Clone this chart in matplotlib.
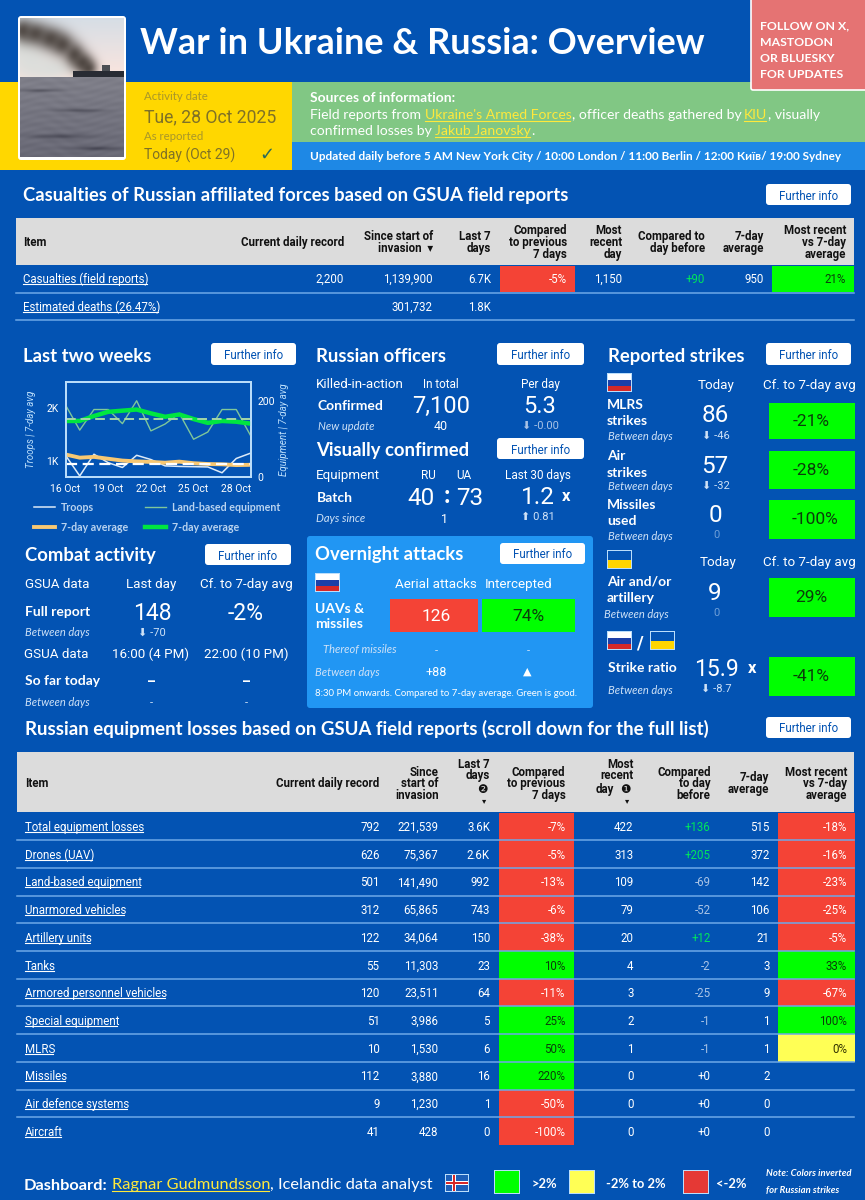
import numpy as np
import matplotlib
matplotlib.use("Agg")
import matplotlib.pyplot as plt
from matplotlib.patches import Rectangle, FancyBboxPatch
from matplotlib.textpath import TextPath
from matplotlib.font_manager import FontProperties

plt.rcParams['font.family'] = ['Roboto', 'DejaVu Sans']

## data
days = ["16 Oct", "17 Oct", "18 Oct", "19 Oct", "20 Oct", "21 Oct", "22 Oct",
        "23 Oct", "24 Oct", "25 Oct", "26 Oct", "27 Oct", "28 Oct", "29 Oct"]
troops = [1110, 720, 1130, 970, 880, 1110, 1030, 910, 900, 895, 890, 780, 1050, 1150]
troops_avg = [1125, 1065, 1080, 1045, 1010, 995, 985, 970, 990, 960, 945, 940, 925, 930]
land_eq = [189, 123, 177, 177, 140, 200, 121, 139, 167, 99, 118, 177, 177, 109]
land_eq_avg = [147, 147, 160, 171, 174, 177, 167, 158, 164, 152, 142, 147, 145, 140]
troops_mean = 950
land_eq_mean = 151

cas_items = ["Casualties (field reports)", "Estimated deaths (26.47%)"]
cas_record = ["2,200", ""]
cas_total = ["1,139,900", "301,732"]
cas_last7 = ["6.7K", "1.8K"]
cas_cmp7 = [-5, None]
cas_recent = ["1,150", ""]
cas_day = ["+90", ""]
cas_avg = ["950", ""]
cas_vs = [21, None]

eq_items = ["Total equipment losses", "Drones (UAV)", "Land-based equipment", "Unarmored vehicles",
            "Artillery units", "Tanks", "Armored personnel vehicles", "Special equipment", "MLRS",
            "Missiles", "Air defence systems", "Aircraft"]
eq_record = ["792", "626", "501", "312", "122", "55", "120", "51", "10", "112", "9", "41"]
eq_total = ["221,539", "75,367", "141,490", "65,865", "34,064", "11,303", "23,511", "3,986", "1,530",
            "3,880", "1,230", "428"]
eq_last7 = ["3.6K", "2.6K", "992", "743", "150", "23", "64", "5", "6", "16", "1", "0"]
eq_cmp7 = [-7, -5, -13, -6, -38, 10, -11, 25, 50, 220, -50, -100]
eq_recent = ["422", "313", "109", "79", "20", "4", "3", "2", "1", "0", "0", "0"]
eq_day = ["+136", "+205", "-69", "-52", "+12", "-2", "-25", "-1", "-1", "+0", "+0", "+0"]
eq_avg = ["515", "372", "142", "106", "21", "3", "9", "1", "1", "2", "0", "0"]
eq_vs = [-18, -16, -23, -25, -5, 33, -67, 100, 0, None, None, None]

## colours
BG = "#0353b3"
GREY = "#dcdcdc"
RED = "#f44336"
GREEN = "#00ff00"
YELLOW = "#ffff55"
PALE = "#bbdefb"
DIM = "#6f9fd8"
HEAD = ['Lato', 'DejaVu Sans']

fig = plt.figure(figsize=(8.65, 12), dpi=100, facecolor=BG)
ax = fig.add_axes([0, 0, 1, 1])
ax.set_axis_off()


def rect(x0, y0, x1, y1, color, z=1, **kw):
    ax.add_patch(Rectangle((x0, y0), x1 - x0, y1 - y0, facecolor=color, edgecolor='none', zorder=z, **kw))


def txt(x, y, s, size=8.5, color='white', ha='left', weight='normal', style='normal', family=None, z=5, **kw):
    return ax.text(x, y, s, fontsize=size, color=color, ha=ha, va='center_baseline', fontweight=weight,
                   fontstyle=style, family=family if family else plt.rcParams['font.family'], zorder=z, **kw)


def head(x, y, s, size=13.3, **kw):
    return txt(x, y, s, size=size, weight='bold', family=HEAD, **kw)


def width(s, size, family='Lato', weight='normal'):
    # width of a string in pixels, kerning included
    prop = FontProperties(family=family, weight=weight)
    adv = TextPath((0, 0), s + "|", size=size, prop=prop).get_extents().x1
    bar = TextPath((0, 0), "|", size=size, prop=prop).get_extents().x1
    return (adv - bar) * 100 / 72


def runs(x, y, parts, size=9, weight='normal'):
    # several pieces of text on one line, links underlined
    for s, color, is_link in parts:
        txt(x, y, s, color=color, size=size, weight=weight, family=HEAD)
        w = width(s, size, weight=weight)
        if is_link:
            ax.plot([x, x + w - 1.5], [y + 6.5, y + 6.5], color=color, lw=0.8, zorder=5)
        x += w
    return x


def link(x, y, s, size=8.3, color='white', offset=6):
    txt(x, y, s, size=size, color=color)
    ax.plot([x, x + width(s, size, family='Roboto') - 2.5], [y + offset, y + offset], color=color, lw=0.8, zorder=5)


def button(x0, y0, x1, y1, size=8.3):
    ax.add_patch(FancyBboxPatch((x0 + 3, y0 + 3), x1 - x0 - 6, y1 - y0 - 6, boxstyle="round,pad=3,rounding_size=3",
                                facecolor='white', edgecolor='none', zorder=3))
    txt((x0 + x1) / 2, (y0 + y1) / 2, "Further info", size=size, color=BG, ha='center')


def flag_ru(x, y):
    rect(x - 1, y - 1, x + 24, y + 18, PALE, z=2)
    rect(x, y, x + 23, y + 6, 'white', z=3)
    rect(x, y + 6, x + 23, y + 11.5, '#1c3fa8', z=3)
    rect(x, y + 11.5, x + 23, y + 17, '#d62828', z=3)


def flag_ua(x, y):
    rect(x - 1, y - 1, x + 24, y + 18, PALE, z=2)
    rect(x, y, x + 23, y + 8.5, BG, z=3)
    rect(x, y + 8.5, x + 23, y + 17, '#ffd500', z=3)


def cell_color(v):
    if v > 2:
        return GREEN
    if v < -2:
        return RED
    return YELLOW


def cell_text(v):
    return '#0b3d0b' if v > 2 else ('white' if v < -2 else '#333300')


def day_color(s):
    if s == "+0":
        return 'white'
    return '#00e65c' if s.startswith('+') else '#a9c3e6'


ax.set_xlim(0, 865)
ax.set_ylim(1200, 0)

## top banner
rect(0, 82, 292, 169.5, '#ffd700')
rect(292, 82, 865, 142, '#81c784')
rect(292, 142, 865, 169.5, '#1e88e5')
ax.add_patch(FancyBboxPatch((751, -6), 120, 96, boxstyle="round,pad=0,rounding_size=2", facecolor='#e57373',
                            edgecolor='white', lw=1.2, zorder=2))
for yy, s in zip([25, 41, 57, 73], ["FOLLOW ON X,", "MASTODON", "OR BLUESKY", "FOR UPDATES"]):
    txt(760, yy, s, size=8.8, weight='bold', family=HEAD)

# photo of the burning ship, painted from gradients
ax.add_patch(FancyBboxPatch((21, 19), 102, 138, boxstyle="round,pad=3,rounding_size=3", facecolor='white',
                            edgecolor='none', zorder=2))
yy, xx = np.mgrid[0:139, 0:104]
above = (yy < 59)[..., None]
sky = np.array([0.84, 0.87, 0.90]) + (yy[..., None] / 40.0) * np.array([0.10, 0.02, -0.02])
sea = np.array([0.50, 0.50, 0.54]) + ((yy[..., None] - 59) / 80.0) * np.array([-0.09, -0.09, -0.08])
waves = 0.018 * (np.sin(yy / 1.3 + 2 * np.sin(xx / 13.0)) * np.sin(xx / 6.0 + yy / 5.0))[..., None]
photo = np.where(above, sky, sea + waves)
for cx, cy, sx, sy in [(10, 42, 16, 14), (32, 50, 18, 8), (2, 28, 8, 9)]:
    g = np.exp(-((xx - cx) ** 2 / (2 * sx ** 2) + (yy - cy) ** 2 / (2 * sy ** 2)))[..., None] * above
    photo = photo * (1 - 0.9 * g) + np.array([0.86, 0.87, 0.86]) * 0.9 * g
for cx, cy, sx, sy in [(2, 12, 7, 8), (15, 15, 9, 8), (30, 20, 9, 8), (42, 26, 8, 8), (54, 36, 7, 8), (62, 44, 7, 7),
                       (68, 50, 6, 6)]:
    g = np.exp(-((xx - cx) ** 2 / (2 * sx ** 2) + (yy - cy) ** 2 / (2 * sy ** 2)))[..., None] * above
    photo = photo * (1 - 0.85 * g) + np.array([0.27, 0.24, 0.22]) * 0.85 * g
for cx, cy, sx, sy in [(20, 72, 14, 1.2), (60, 92, 18, 1.3), (40, 118, 20, 1.6), (75, 130, 16, 1.4)]:
    g = np.exp(-((xx - cx) ** 2 / (2 * sx ** 2) + (yy - cy) ** 2 / (2 * sy ** 2)))[..., None]
    photo = photo - 0.12 * g
photo[53:59, 53:104] = [0.16, 0.17, 0.2]
photo[47:53, 82:90] = [0.3, 0.31, 0.33]
photo = np.clip(photo, 0, 1)
ax.imshow(photo, extent=(20, 124, 157, 18), aspect='auto', zorder=3, interpolation='bilinear')
ax.set_xlim(0, 865)
ax.set_ylim(1200, 0)

head(140, 41, "War in Ukraine & Russia: Overview", size=25.9)
OLIVE = '#7f7127'
txt(144, 96, "Activity date", size=8.2, color='#a8962a', family=HEAD)
txt(144, 115, "Tue, 28 Oct 2025", size=12.7, color=OLIVE)
txt(144, 136, "As reported", size=8.2, color='#a8962a', family=HEAD)
txt(144, 154, "Today (Oct 29)", size=10, color=OLIVE)
txt(267, 153, "\u2713", size=13, color='#2a6a5a', ha='center', family=['DejaVu Sans'])

head(310, 97, "Sources of information:", size=10)
Y_LINK = '#ffe93b'
runs(310, 114, [("Field reports from ", 'white', False), ("Ukraine's Armed Forces", Y_LINK, True),
                (", officer deaths gathered by ", 'white', False), ("KIU", Y_LINK, True),
                (", visually", 'white', False)], size=10.1)
runs(310, 130, [("confirmed losses by ", 'white', False), ("Jakub Janovsky", Y_LINK, True),
                (".", 'white', False)], size=10.1)
txt(310, 156, "Updated daily before 5 AM New York City / 10:00 London / 11:00 Berlin / 12:00 \u041a\u0438\u0457\u0432/ 19:00 Sydney",
    size=8.45, weight='bold', family=HEAD)

## casualties table
head(23, 194, "Casualties of Russian affiliated forces based on GSUA field reports", size=13.3)
button(766, 184, 851, 205)
rect(16, 218, 854, 265, GREY)
DARK = '#111111'
HS = 8.3
txt(23, 241, "Item", size=HS, color=DARK, weight='bold')
txt(344, 241, "Current daily record", size=HS, color=DARK, weight='bold', ha='right')
for x, lines, ys in [(433, ["Since start of", "invasion  \u25be"], [235, 247]), (491, ["Last 7", "days"], [235, 247]),
                     (567, ["Compared", "to previous", "7 days"], [229, 241, 253]),
                     (622, ["Most", "recent", "day"], [229, 241, 253]),
                     (705, ["Compared to", "day before"], [235, 247]), (764, ["7-day", "average"], [235, 247]),
                     (846, ["Most recent", "vs 7-day", "average"], [229, 241, 253])]:
    for s, y in zip(lines, ys):
        txt(x, y, s, size=HS, color=DARK, weight='bold', ha='right')

cas_y = [278, 306]
for i, y in enumerate(cas_y):
    link(23, y, cas_items[i])
    txt(344, y, cas_record[i], ha='right', size=8.3)
    txt(433, y, cas_total[i], ha='right', size=8.3)
    txt(491, y, cas_last7[i], ha='right', size=8.3)
    txt(622, y, cas_recent[i], ha='right', size=8.3)
    txt(705, y, cas_day[i], ha='right', size=8.3, color='#00e65c')
    txt(764, y, cas_avg[i], ha='right', size=8.3)
    if cas_cmp7[i] is not None:
        rect(500, 265.5, 575, 292, cell_color(cas_cmp7[i]), z=2)
        txt(567, y, "%d%%" % cas_cmp7[i], ha='right', size=8.3, color=cell_text(cas_cmp7[i]))
    if cas_vs[i] is not None:
        rect(772, 265.5, 854, 292, cell_color(cas_vs[i]), z=2)
        txt(846, y, "%d%%" % cas_vs[i], ha='right', size=8.3, color=cell_text(cas_vs[i]))
for y in [292.5, 319.5]:
    ax.plot([16, 854], [y, y], color='#6ea8e8', lw=1.1, zorder=3)

## last two weeks chart
head(23, 355, "Last two weeks")
button(211, 343, 296, 365)
chart = fig.add_axes([65.5 / 865, 1 - 477 / 1200, 185 / 865, 95.3 / 1200], facecolor='none')
right = chart.twinx()
x = list(range(len(days)))
l1, = chart.plot(x, troops, color='#dceaf8', lw=1.1, label="Troops")
l2, = chart.plot(x, troops_avg, color='#f7c873', lw=2.8, label="7-day average")
chart.axhline(troops_mean, color='white', lw=1.6, ls=(0, (5, 2.5)))
l3, = right.plot(x, land_eq, color='#7fc79a', lw=1.0, label="Land-based equipment")
l4, = right.plot(x, land_eq_avg, color='#00e640', lw=3.2, label="7-day average")
right.axhline(land_eq_mean, color='#a5d6a7', lw=1.4, ls=(0, (5, 2.5)))
chart.set_xlim(0, 13)
chart.set_ylim(700, 2500)
right.set_ylim(0, 250)
chart.set_xticks(x[::3])
chart.set_xticklabels(days[::3])
chart.set_yticks([1000, 2000])
chart.set_yticklabels(["1K", "2K"])
right.set_yticks([0, 200])
for a in [chart, right]:
    a.tick_params(length=0, labelsize=7.5, colors='white', pad=5)
    for sp in a.spines.values():
        sp.set_color(PALE)
        sp.set_linewidth(1.3)
chart.tick_params(axis='x', pad=5)
chart.set_ylabel("Troops | 7-day avg", fontsize=7, fontstyle='italic', color=PALE, labelpad=7)
right.set_ylabel("Equipment | 7-day avg", fontsize=7, fontstyle='italic', color=PALE, labelpad=3)
leg = fig.legend([l1, l2, l3, l4], [h.get_label() for h in [l1, l2, l3, l4]], ncol=2, frameon=False,
                 loc='upper left', bbox_to_anchor=(34 / 865, 1 - 502 / 1200), labelcolor='#b9d3f0',
                 handlelength=2.0, handletextpad=0.5, columnspacing=1.6, labelspacing=0.85, borderpad=0, borderaxespad=0,
                 prop={'family': HEAD, 'size': 7.7, 'weight': 'bold'})

## combat activity
SUB = 10
head(25, 554, "Combat activity")
button(205, 544, 291, 565)
txt(25, 583, "GSUA data", size=9.6)
txt(151, 583, "Last day", size=9.6, ha='center')
txt(246, 583, "Cf. to 7-day avg", size=9.6, ha='center')
head(25, 611, "Full report", size=SUB)
txt(152, 611, "148", size=16.5, ha='center')
txt(246, 611, "-2%", size=16.5, ha='center')
BD = '#cfe2f7'
txt(25, 632, "Between days", size=8, style='italic', family=HEAD, color=BD)
txt(152, 632, "\u2b07 -70", size=8, ha='center', color=BD)
txt(24, 653, "GSUA data", size=9.6)
txt(151, 653, "16:00 (4 PM)", size=9.6, ha='center')
txt(246, 653, "22:00 (10 PM)", size=9.6, ha='center')
head(25, 680, "So far today", size=SUB)
txt(151, 681, "\u2013", size=10, ha='center', weight='bold')
txt(246, 681, "\u2013", size=10, ha='center', weight='bold')
txt(25, 701, "Between days", size=8, style='italic', family=HEAD, color=BD)
txt(151, 702, "-", size=8, ha='center', color=BD)
txt(246, 702, "-", size=8, ha='center', color=BD)

## russian officers
head(316, 355, "Russian officers")
button(497, 343, 584, 365)
txt(316, 383, "Killed-in-action", size=9.6)
txt(441, 383, "In total", size=8.5, ha='center')
txt(540, 383, "Per day", size=8.5, ha='center')
head(317, 405, "Confirmed", size=SUB)
txt(441, 404, "7,100", size=17, ha='center')
txt(540, 404, "5.3", size=17, ha='center')
txt(318, 425, "New update", size=8, style='italic', family=HEAD, color=BD)
txt(441, 425, "40", size=9, ha='center')
txt(540, 425, "\u2b07 -0.00", size=8, ha='center', color='#a9c3e6')

head(316, 449, "Visually confirmed")
button(497, 438, 584, 459)
txt(316, 474, "Equipment", size=9.6)
txt(428, 474, "RU", size=8.5, ha='center')
txt(464, 474, "UA", size=8.5, ha='center')
txt(538, 474, "Last 30 days", size=8.5, ha='center')
head(317, 497, "Batch", size=SUB)
txt(421, 496, "40", size=17.5, ha='center')
txt(447, 494, ":", size=17, ha='center', weight='bold')
txt(470, 496, "73", size=17.5, ha='center')
txt(538, 495, "1.2", size=17.5, ha='center')
txt(566, 495, "x", size=12, ha='center', weight='bold')
txt(316, 518, "Days since", size=8, style='italic', family=HEAD, color=BD)
txt(445, 518, "1", size=9, ha='center')
txt(538, 516, "\u2b06 0.81", size=8, ha='center', color=BD)

## overnight attacks
ax.add_patch(FancyBboxPatch((310, 539), 280, 166, boxstyle="round,pad=3,rounding_size=3", facecolor='#2196f3',
                            edgecolor='none', zorder=1))
head(315, 553, "Overnight attacks")
button(500, 543, 585, 564)
flag_ru(316, 574)
txt(436, 583, "Aerial attacks", size=9.6, ha='center')
txt(519, 583, "Intercepted", size=9.6, ha='center')
head(315, 608, "UAVs &", size=SUB)
head(315, 623, "missiles", size=SUB)
rect(390, 599, 478, 632, RED, z=2)
rect(482, 599, 575, 632, GREEN, z=2)
txt(436, 615, "126", size=12.5, ha='center')
txt(528, 615, "74%", size=12.5, ha='center', color='#0b3d0b')
txt(323, 648, "Thereof missiles", size=8, style='italic', family=HEAD, color=BD)
txt(436, 650, "-", size=8, ha='center', color=BD)
txt(528, 650, "-", size=8, ha='center', color=BD)
txt(315, 672, "Between days", size=8, style='italic', family=HEAD, color=BD)
txt(436, 671, "+88", size=9, ha='center')
txt(527, 671, "\u25b2", size=8, ha='center')
txt(315, 692, "8:30 PM onwards. Compared to 7-day average. Green is good.", size=6.9, family=HEAD)

## reported strikes
head(608, 355, "Reported strikes")
button(766, 343, 851, 365)
flag_ru(608, 374)
txt(716, 384, "Today", size=9.6, ha='center')
txt(809, 384, "Cf. to 7-day avg", size=9.6, ha='center')
strike_rows = [
    ("MLRS", "strikes", "86", "\u2b07 -46", "-21%", (404, 420, 435, 413, 435, 403, 439, 420), 811),
    ("Air", "strikes", "57", "\u2b07 -32", "-28%", (455, 472, 486, 464, 485, 451, 489, 469), 811),
    ("Missiles", "used", "0", "0", "-100%", (504, 520, 536, 513, 534, 500, 539, 518), 815),
    ("Air and/or", "artillery", "9", "0", "29%", (581, 597, 614, 591, 612, 578, 617, 596), 811),
]
for n1, n2, val, diff, pct, (y1, y2, y3, y4, y5, c0, c1, y6), cx in strike_rows:
    head(607, y1, n1, size=SUB)
    head(607, y2, n2, size=SUB)
    txt(604 if n1.startswith("Air and") else 608, y3, "Between days", size=8, style='italic', family=HEAD, color=BD)
    txt(715, y4, val, size=17.5, ha='center')
    txt(716, y5, diff, size=8, ha='center', color=DIM if diff == "0" else BD)
    rect(769, c0, 855, c1, GREEN, z=2)
    txt(cx, y6, pct, size=12.5, ha='center', color='#0b3d0b')
flag_ua(608, 551)
txt(718, 561, "Today", size=9.6, ha='center')
txt(809, 561, "Cf. to 7-day avg", size=9.6, ha='center')
flag_ru(608, 632)
txt(639, 641, "/", size=13, ha='center', weight='bold')
flag_ua(651, 632)
head(608, 667, "Strike ratio", size=SUB)
txt(716, 667, "15.9", size=16.5, ha='center')
txt(752, 667, "x", size=12, ha='center', weight='bold')
txt(608, 689, "Between days", size=8, style='italic', family=HEAD, color=BD)
txt(716, 688, "\u2b07 -8.7", size=8, ha='center', color=BD)
rect(769, 657, 855, 696, GREEN, z=2)
txt(811, 675, "-41%", size=12.5, ha='center', color='#0b3d0b')

## equipment table
head(25, 727, "Russian equipment losses based on GSUA field reports (scroll down for the full list)", size=13.4)
button(766, 717, 851, 738)
rect(17, 752, 854, 812, GREY)
txt(25, 782, "Item", size=HS, color=DARK, weight='bold')
txt(379.5, 782, "Current daily record", size=HS, color=DARK, weight='bold', ha='right')
for x0, lines, ys in [(438.5, ["Since", "start of", "invasion"], [771, 782, 794]),
                      (490, ["Last 7", "days"], [763, 774]),
                      (565.5, ["Compared", "to previous", "7 days"], [771, 782, 794]),
                      (633.5, ["Most", "recent"], [763, 774]),
                      (710.5, ["Compared", "to day", "before"], [771, 782, 794]),
                      (769.5, ["7-day", "average"], [776, 788]),
                      (847, ["Most recent", "vs 7-day", "average"], [771, 782, 794])]:
    for s, y in zip(lines, ys):
        txt(x0, y, s, size=HS, color=DARK, weight='bold', ha='right')
txt(482, 788, "\u2777", size=8.5, color=DARK, ha='center', family=['DejaVu Sans'])
txt(484, 800, "\u25be", size=6, color=DARK, ha='center', family=['DejaVu Sans'])
txt(596, 788, "day", size=HS, color=DARK, weight='bold')
txt(625, 788, "\u2776", size=8.5, color=DARK, ha='center', family=['DejaVu Sans'])
txt(627, 800, "\u25be", size=6, color=DARK, ha='center', family=['DejaVu Sans'])

row_h = 27.7
top = 812.5
for i, name in enumerate(eq_items):
    y0 = top + i * row_h
    y = y0 + 13.5
    link(25, y, name)
    txt(379.5, y, eq_record[i], ha='right', size=8.3)
    txt(438.5, y, eq_total[i], ha='right', size=8.3)
    txt(490, y, eq_last7[i], ha='right', size=8.3)
    txt(633.5, y, eq_recent[i], ha='right', size=8.3)
    txt(710.5, y, eq_day[i], ha='right', size=8.3, color=day_color(eq_day[i]))
    txt(769.5, y, eq_avg[i], ha='right', size=8.3)
    rect(498.5, y0, 573.5, y0 + row_h, cell_color(eq_cmp7[i]), z=2)
    txt(565.5, y, "%d%%" % eq_cmp7[i], ha='right', size=8.3, color=cell_text(eq_cmp7[i]))
    if eq_vs[i] is not None:
        rect(777.5, y0, 854.5, y0 + row_h, cell_color(eq_vs[i]), z=2)
        txt(847, y, "%d%%" % eq_vs[i], ha='right', size=8.3, color=cell_text(eq_vs[i]))
    if i < len(eq_items) - 1:
        ax.plot([17, 854], [y0 + row_h, y0 + row_h], color='#6ea8e8', lw=1.1, zorder=3)

## footer
runs(24, 1184, [("Dashboard:", 'white', False)], size=11.8, weight='bold')
runs(112, 1184, [("Ragnar Gudmundsson", '#ffe93b', True), (", Icelandic data analyst", 'white', False)], size=11.8)
rect(445, 1174, 469, 1192, PALE, z=2)
rect(446, 1175, 468, 1191, '#1c5fb8', z=3)
rect(446, 1181, 468, 1185, 'white', z=3)
rect(452, 1175, 456, 1191, 'white', z=3)
rect(446, 1182, 468, 1184, '#d62828', z=4)
rect(453, 1175, 455, 1191, '#d62828', z=4)
for x0, c in [(495, GREEN), (570, YELLOW), (684, '#e53935')]:
    rect(x0 - 1, 1170, x0 + 25, 1194, PALE, z=2)
    rect(x0, 1171, x0 + 24, 1193, c, z=3)
head(532, 1183, ">2%", size=9.3)
head(606, 1183, "-2% to 2%", size=9.3)
head(716, 1183, "<-2%", size=9.3)
txt(766, 1173, "Note: Colors inverted", size=6.8, style='italic', weight='bold', family=HEAD)
txt(766, 1189, "for Russian strikes", size=6.8, style='italic', weight='bold', family=HEAD)

fig.savefig("out.png", dpi=100, facecolor=BG)
